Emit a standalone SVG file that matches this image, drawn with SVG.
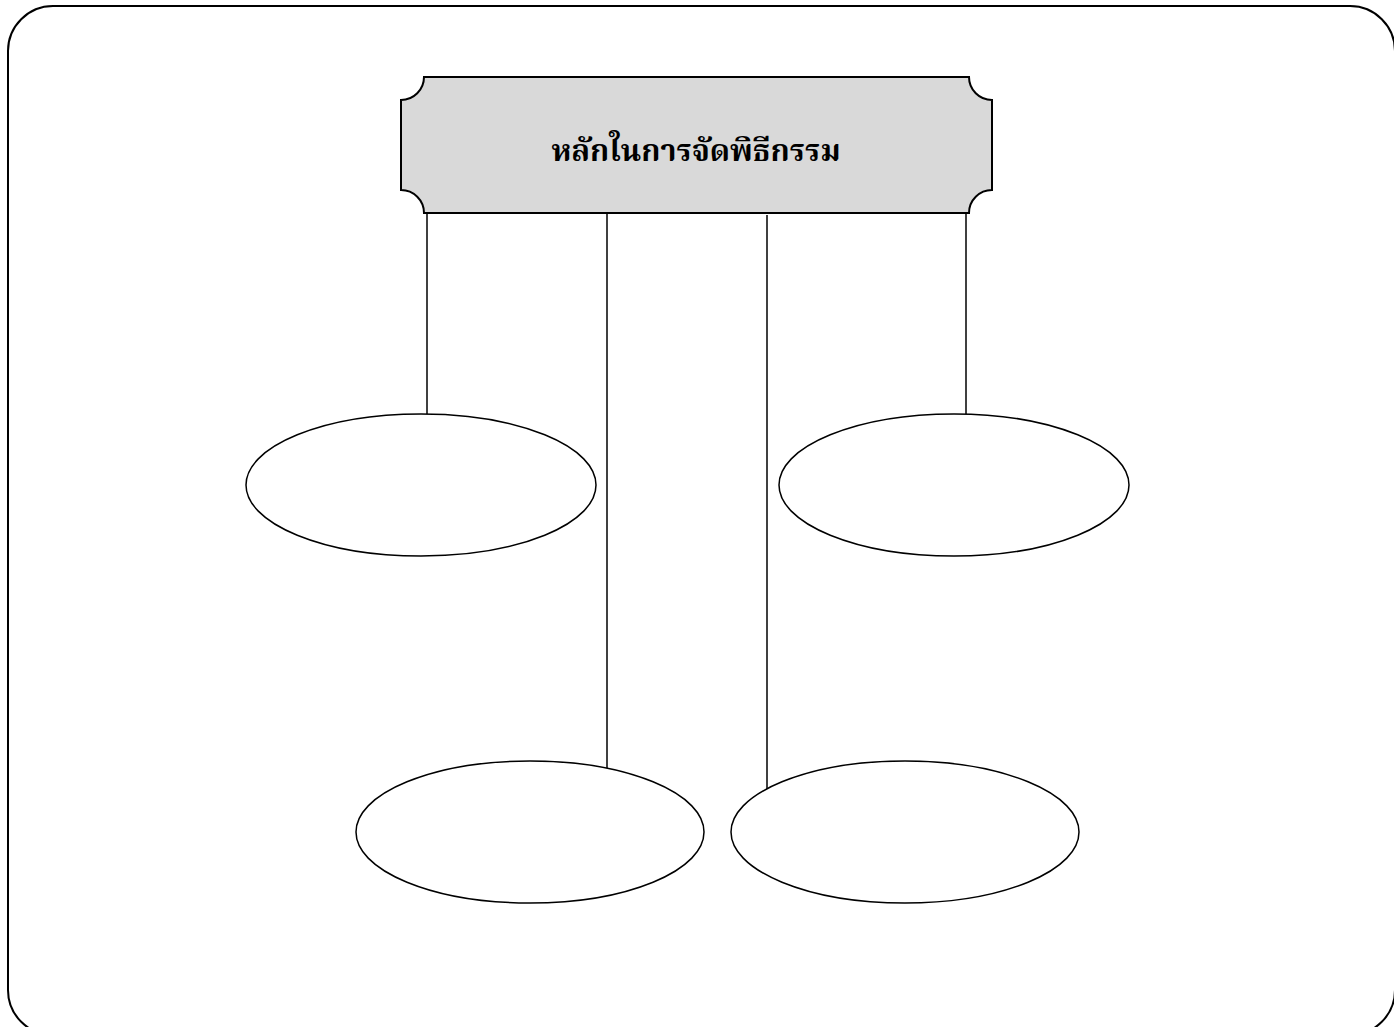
<svg xmlns="http://www.w3.org/2000/svg" width="1394" height="1027" viewBox="0 0 1394 1027">
<style>
.ln{stroke:#000;stroke-width:1.5;fill:none}
.el{stroke:#000;stroke-width:1.5;fill:#fff}
.t{font-family:"Noto Serif Thai","Noto Sans Thai","Noto Sans","DejaVu Sans",serif;font-weight:bold;font-size:30px;fill:#000}
</style>
<rect x="0" y="0" width="1394" height="1027" fill="#fff"/>
<rect id="frame" x="8" y="6" width="1387" height="1029" rx="45" ry="45" fill="none" stroke="#000" stroke-width="2"/>
<g id="connectors">
<line class="ln" x1="427" y1="213" x2="427" y2="414"/>
<line class="ln" x1="607" y1="213" x2="607" y2="768"/>
<line class="ln" x1="767" y1="215" x2="767" y2="790"/>
<line class="ln" x1="966" y1="213" x2="966" y2="414"/>
</g>
<g id="title">
<path d="M424,77 H969 A23,23 0 0 0 992,100 V190 A23,23 0 0 0 969,213 H424 A23,23 0 0 0 401,190 V100 A23,23 0 0 0 424,77 Z" fill="#d9d9d9" stroke="#000" stroke-width="2"/>
<text class="t" x="696" y="161" text-anchor="middle" textLength="289" lengthAdjust="spacingAndGlyphs">หลักในการจัดพิธีกรรม</text>
</g>
<g id="n1"><ellipse class="el" cx="421" cy="485" rx="175" ry="71"/></g>
<g id="n2"><ellipse class="el" cx="954" cy="485" rx="175" ry="71"/></g>
<g id="n3"><ellipse class="el" cx="530" cy="832" rx="174" ry="71"/></g>
<g id="n4"><ellipse class="el" cx="905" cy="832" rx="174" ry="71"/></g>
</svg>
